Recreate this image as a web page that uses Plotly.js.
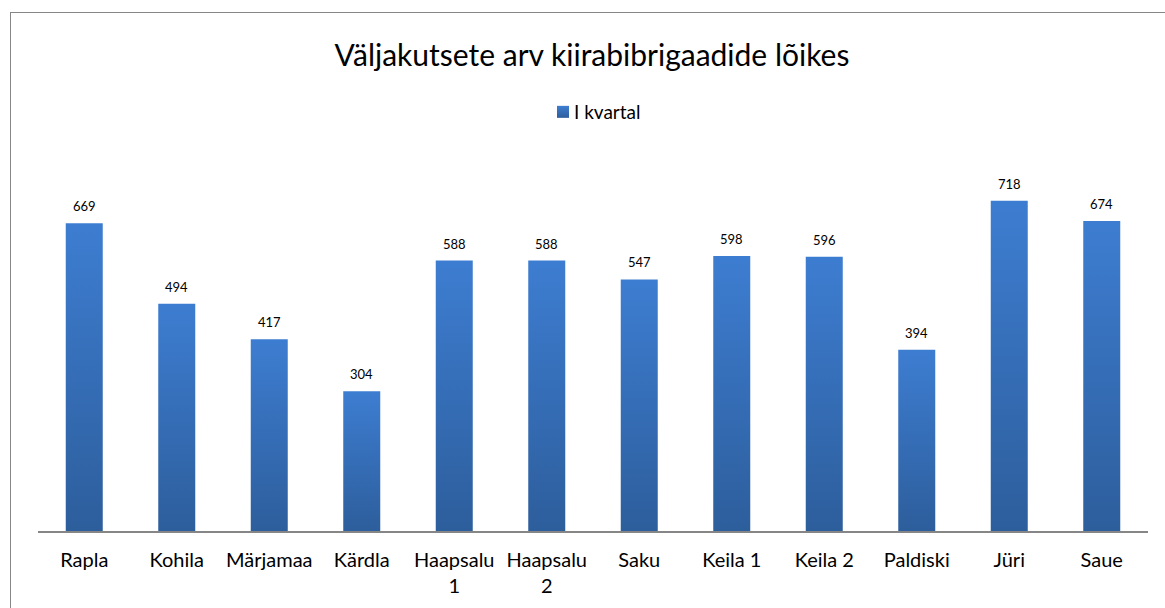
<!DOCTYPE html>
<html>
<head>
<meta charset="utf-8">
<script src="https://cdn.plot.ly/plotly-3.0.1.min.js"></script>
<style>
  html, body { margin: 0; padding: 0; background: #fff; overflow: hidden; }
  #chart { width: 1165px; height: 608px; position: relative; }
  #frame { position: absolute; left: 10px; top: 12px; width: 1300px; height: 800px;
           border: 1.5px solid #878787; pointer-events: none; box-sizing: border-box; }
</style>
</head>
<body>
<div id="chart"></div>
<div id="frame"></div>
<script>
const categories = ["Rapla", "Kohila", "Märjamaa", "Kärdla", "Haapsalu<br>1", "Haapsalu<br>2",
                    "Saku", "Keila 1", "Keila 2", "Paldiski", "Jüri", "Saue"];
const values = [669, 494, 417, 304, 588, 588, 547, 598, 596, 394, 718, 674];
const seriesName = "I kvartal";
const chartTitle = "Väljakutsete arv kiirabibrigaadide lõikes";

const FONT = "Lato, 'Open Sans', sans-serif";

const trace = {
  type: "bar",
  x: categories,
  y: values,
  name: seriesName,
  marker: { color: "#3670bb", line: { width: 0 } },
  hoverinfo: "x+y"
};

const valueLabels = categories.map(function (c, i) {
  return {
    x: c, y: values[i], xref: "x", yref: "y",
    text: String(values[i]), showarrow: false,
    yanchor: "bottom", yshift: 7,
    font: { family: FONT, size: 13, color: "#000" }
  };
});

const layout = {
  width: 1165,
  height: 608,
  margin: { l: 38, r: 17, t: 163, b: 77 },
  paper_bgcolor: "#ffffff",
  plot_bgcolor: "#ffffff",
  bargap: 0.6,
  showlegend: true,
  annotations: valueLabels,
  title: {
    text: chartTitle,
    font: { family: FONT, size: 30, color: "#000" },
    x: 592 / 1165, xanchor: "center", xref: "container",
    y: 1 - 55 / 608, yanchor: "middle", yref: "container"
  },
  legend: {
    orientation: "h",
    x: 0.5 + 6 / 1110, xanchor: "center",
    y: 1 - 112 / 608, yanchor: "middle", yref: "container",
    font: { family: FONT, size: 19, color: "#000" },
    itemwidth: 30
  },
  xaxis: {
    showline: true, linecolor: "#868686", linewidth: 2,
    ticks: "", showgrid: false, zeroline: false,
    tickfont: { family: FONT, size: 20, color: "#000" },
    ticklabelstandoff: 10,
    fixedrange: true
  },
  yaxis: {
    range: [0, 800],
    visible: false,
    showgrid: false, zeroline: false,
    fixedrange: true
  }
};

Plotly.newPlot("chart", [trace], layout, { displayModeBar: false, staticPlot: true }).then(function (gd) {
  // apply vertical gradient to the bars (styling only)
  const svg = gd.querySelector("svg.main-svg");
  const ns = "http://www.w3.org/2000/svg";
  let defs = svg.querySelector("defs");
  if (!defs) { defs = document.createElementNS(ns, "defs"); svg.insertBefore(defs, svg.firstChild); }
  const grad = document.createElementNS(ns, "linearGradient");
  grad.setAttribute("id", "barGrad");
  grad.setAttribute("x1", "0"); grad.setAttribute("y1", "0");
  grad.setAttribute("x2", "0"); grad.setAttribute("y2", "1");
  [["0%", "#3d7dd1"], ["100%", "#2d5e9c"]].forEach(function (s) {
    const st = document.createElementNS(ns, "stop");
    st.setAttribute("offset", s[0]); st.setAttribute("stop-color", s[1]);
    grad.appendChild(st);
  });
  defs.appendChild(grad);
  gd.querySelectorAll(".bars .point path").forEach(function (p) {
    p.style.fill = "url(#barGrad)";
  });
  gd.querySelectorAll(".legend .legendpoints path").forEach(function (p) {
    p.style.fill = "url(#barGrad)";
  });
  // tighten the gap between legend symbol and its text
  gd.querySelectorAll(".legend .legendtext").forEach(function (t) {
    t.setAttribute("x", "31");
  });
});
</script>
</body>
</html>
